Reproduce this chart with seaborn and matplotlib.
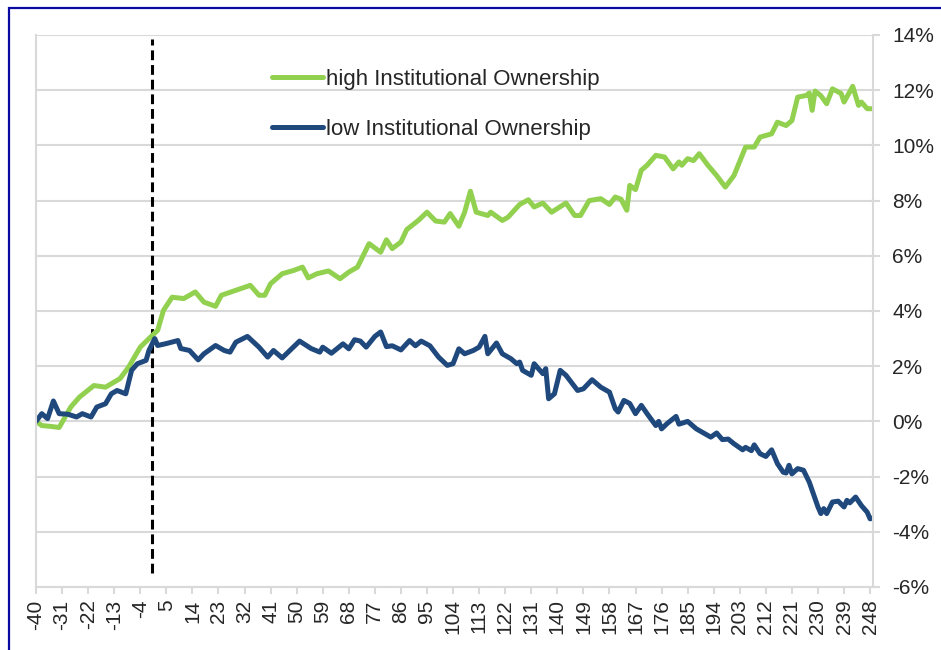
import matplotlib
matplotlib.use("Agg")
import pandas as pd
import matplotlib.pyplot as plt
import seaborn as sns
from matplotlib.patches import Rectangle

# event days and cumulative return (%)
high_days = [-40, -38, -35, -32, -28, -25, -20, -16, -11, -8, -4, -1, 2, 4, 7, 11, 15, 18, 22, 24,
             29, 34, 37, 39, 41, 45, 49, 52, 54, 57, 61, 65, 68, 71, 75, 79, 81, 83, 86, 88,
             92, 95, 98, 101, 103, 106, 108, 110, 112, 116, 117, 121, 123, 127, 130, 132, 135, 138, 143, 146,
             148, 151, 155, 158, 160, 162, 164, 165, 167, 169, 171, 174, 177, 180, 182, 183, 185, 187, 189, 192,
             195, 198, 201, 205, 208, 210, 214, 216, 219, 221, 223, 226, 227, 228, 229, 231, 233, 235, 238, 239,
             242, 244, 245, 247, 249]
high_ret = [0.0, -0.15, -0.18, -0.22, 0.52, 0.88, 1.30, 1.24, 1.55, 1.97, 2.69, 3.0, 3.3, 4.02, 4.5, 4.45, 4.69, 4.32, 4.17, 4.57,
            4.75, 4.93, 4.57, 4.57, 4.99, 5.35, 5.47, 5.59, 5.2, 5.35, 5.45, 5.17, 5.41, 5.59, 6.44, 6.13, 6.58, 6.26, 6.5, 6.95,
            7.28, 7.58, 7.26, 7.22, 7.53, 7.07, 7.58, 8.34, 7.58, 7.46, 7.58, 7.28, 7.4, 7.86, 8.03, 7.77, 7.91, 7.58, 7.91, 7.46,
            7.46, 8.0, 8.07, 7.86, 8.13, 8.05, 7.65, 8.55, 8.4, 9.1, 9.28, 9.64, 9.58, 9.15, 9.4, 9.28, 9.52, 9.45, 9.7, 9.28,
            8.91, 8.49, 8.91, 9.94, 9.94, 10.3, 10.42, 10.84, 10.72, 10.9, 11.75, 11.81, 11.9, 11.27, 11.97, 11.8, 11.51, 12.05, 11.88, 11.57,
            12.14, 11.45, 11.57, 11.33, 11.33]

low_days = [-40, -38, -36, -34, -32, -29, -26, -24, -21, -19, -16, -14, -12, -9, -7, -5, -2, -1, 1, 2,
            5, 9, 10, 13, 16, 18, 22, 25, 27, 29, 33, 37, 40, 42, 45, 51, 55, 58, 59, 62,
            66, 68, 70, 72, 74, 77, 79, 81, 83, 86, 89, 91, 93, 96, 99, 102, 104, 106, 108, 111,
            113, 115, 116, 119, 121, 124, 126, 127, 128, 131, 132, 135, 136, 137, 139, 141, 143, 147, 149, 152,
            155, 156, 158, 160, 161, 163, 165, 167, 169, 171, 174, 175, 176, 178, 181, 182, 185, 188, 190, 193,
            195, 197, 199, 201, 204, 205, 207, 208, 210, 212, 214, 216, 218, 219, 220, 221, 223, 225, 227, 228,
            230, 231, 232, 233, 235, 237, 239, 240, 241, 243, 245, 247, 248, 249]
low_ret = [0.0, 0.28, 0.1, 0.74, 0.28, 0.26, 0.16, 0.28, 0.16, 0.52, 0.64, 1.0, 1.12, 1.0, 1.85, 2.09, 2.21, 2.57, 3.0, 2.75,
           2.82, 2.93, 2.64, 2.57, 2.23, 2.45, 2.75, 2.57, 2.51, 2.87, 3.08, 2.69, 2.33, 2.57, 2.3, 2.91, 2.64, 2.51, 2.69, 2.47,
           2.81, 2.63, 2.96, 2.91, 2.69, 3.08, 3.24, 2.71, 2.74, 2.59, 2.93, 2.74, 2.91, 2.74, 2.33, 2.03, 2.09, 2.63, 2.45, 2.57,
           2.69, 3.08, 2.45, 2.84, 2.45, 2.27, 2.09, 2.15, 1.85, 1.67, 2.09, 1.73, 1.91, 0.82, 1.0, 1.85, 1.67, 1.12, 1.18, 1.51,
           1.24, 1.18, 1.06, 0.46, 0.34, 0.76, 0.65, 0.28, 0.58, 0.28, -0.15, 0.0, -0.27, -0.07, 0.18, -0.1, 0.0, -0.27, -0.39, -0.57,
           -0.42, -0.66, -0.64, -0.81, -1.03, -0.94, -1.06, -0.85, -1.17, -1.27, -1.03, -1.53, -1.84, -1.87, -1.59, -1.9, -1.71, -1.77, -2.2, -2.5,
           -3.1, -3.34, -3.16, -3.34, -2.92, -2.89, -3.1, -2.86, -2.95, -2.74, -3.05, -3.29, -3.53, -3.5]

x_ticks = list(range(-40, 249, 9))
y_ticks = [-6, -4, -2, 0, 2, 4, 6, 8, 10, 12, 14]
y_labels = [f"{v}%" for v in y_ticks]

GREEN = '#92D050'
BLUE = '#1F497D'
GRID = '#D9D9D9'

sns.set_style("white")
plt.rcParams['font.family'] = ['Liberation Sans', 'DejaVu Sans']

df_high = pd.DataFrame({'day': high_days, 'ret': high_ret})
df_low = pd.DataFrame({'day': low_days, 'ret': low_ret})

fig = plt.figure(figsize=(9.41, 6.5), dpi=100)
ax = fig.add_axes([36 / 941, 1 - 587 / 650, 837 / 941, 552 / 650])

sns.lineplot(data=df_high, x='day', y='ret', color=GREEN, linewidth=3.6,
             label='high Institutional Ownership', ax=ax)
sns.lineplot(data=df_low, x='day', y='ret', color=BLUE, linewidth=3.6,
             label='low Institutional Ownership', ax=ax)

# event day marker
ax.vlines(0, -5.5, 13.85, colors='black', linestyles=(0, (3.2, 1.6)), linewidth=2.2, zorder=1)

ax.set_xlim(-40, 249)
ax.set_ylim(-6, 14)
ax.set_xticks(x_ticks)
ax.set_xticklabels([str(t) for t in x_ticks], rotation=90, fontsize=15)
ax.yaxis.tick_right()
ax.set_yticks(y_ticks)
ax.set_yticklabels(y_labels, fontsize=15)
ax.set_xlabel('')
ax.set_ylabel('')

ax.grid(axis='y', color=GRID, linewidth=1.5)
ax.grid(axis='x', visible=False)
ax.set_axisbelow(True)
for side in ['left', 'bottom', 'right']:
    ax.spines[side].set_color(GRID)
    ax.spines[side].set_linewidth(1.5)
ax.spines['top'].set_visible(False)
ax.tick_params(axis='x', direction='out', length=5, width=1.5, color=GRID, pad=4, bottom=True)
ax.tick_params(axis='y', direction='out', length=5, width=1.5, color=GRID, pad=9, right=True, left=False)

leg = ax.legend(loc='upper left', bbox_to_anchor=(272 / 941, 1 - 69 / 650), bbox_transform=fig.transFigure,
                frameon=False, fontsize=16, handlelength=2.3, handletextpad=0.15, labelspacing=1.3,
                borderpad=0, borderaxespad=0)

# outer chart border
fig.patches.append(Rectangle((9 / 941, -0.05), 1.2, 1.05 - 8 / 650, transform=fig.transFigure,
                             fill=False, edgecolor='#0A0AA0', linewidth=1.6))

fig.savefig('out.png', dpi=100)
plt.close(fig)
